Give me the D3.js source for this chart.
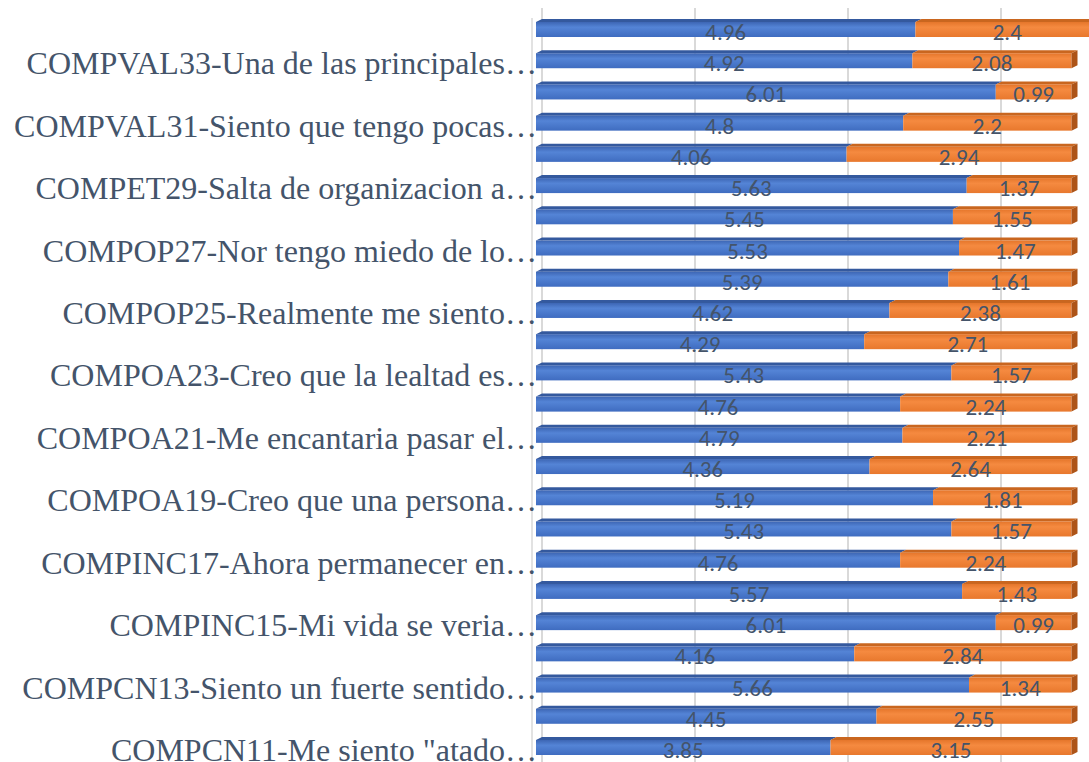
<!DOCTYPE html>
<html>
<head>
<meta charset="utf-8">
<script src="https://cdn.jsdelivr.net/npm/d3@7"></script>
<style>
  body { margin: 0; background: #fff; }
  svg { display: block; }
</style>
</head>
<body>
<svg id="chart" width="1089" height="762"></svg>
<script>
// categories from bottom to top, only every other one gets a label on the axis
var categories = [
  'COMPCN11-Me siento "atado…', "COMPCN12",
  "COMPCN13-Siento un fuerte sentido…", "COMPCN14",
  "COMPINC15-Mi vida se veria…", "COMPINC16",
  "COMPINC17-Ahora permanecer en…", "COMPINC18",
  "COMPOA19-Creo que una persona…", "COMPOA20",
  "COMPOA21-Me encantaria pasar el…", "COMPOA22",
  "COMPOA23-Creo que la lealtad es…", "COMPOA24",
  "COMPOP25-Realmente me siento…", "COMPOP26",
  "COMPOP27-Nor tengo miedo de lo…", "COMPOP28",
  "COMPET29-Salta de organizacion a…", "COMPET30",
  "COMPVAL31-Siento que tengo pocas…", "COMPVAL32",
  "COMPVAL33-Una de las principales…", "COMPVAL34"
];
var blueValues = [3.85, 4.45, 5.66, 4.16, 6.01, 5.57, 4.76, 5.43, 5.19, 4.36, 4.79, 4.76,
                  5.43, 4.29, 4.62, 5.39, 5.53, 5.45, 5.63, 4.06, 4.8, 6.01, 4.92, 4.96];
var orangeValues = [3.15, 2.55, 1.34, 2.84, 0.99, 1.43, 2.24, 1.57, 1.81, 2.64, 2.21, 2.24,
                    1.57, 2.71, 2.38, 1.61, 1.47, 1.55, 1.37, 2.94, 2.2, 0.99, 2.08, 2.4];
var gridTicks = [0, 2, 4, 6, 8];

var svg = d3.select("#chart");
var textColor = "#44546A";
var depthX = 6, depthY = 3, barH = 15;

var x = d3.scaleLinear().domain([0, 8]).range([542, 542 + 8 * 76.5]);
var y = d3.scalePoint().domain(d3.range(categories.length).reverse()).range([29.5, 747.5]);

// gradients for the bar faces
var defs = svg.append("defs");
function grad(id, stops) {
  var g = defs.append("linearGradient").attr("id", id)
    .attr("x1", 0).attr("y1", 0).attr("x2", 0).attr("y2", 1);
  stops.forEach(function(s) {
    g.append("stop").attr("offset", s[0]).attr("stop-color", s[1]);
  });
}
grad("blueGrad", [["0", "#3d66b4"], ["0.35", "#5484d6"], ["1", "#3f6cc0"]]);
grad("orangeGrad", [["0", "#e5762b"], ["0.35", "#f58a40"], ["1", "#e8782d"]]);

// back wall edge and gridlines
svg.append("line")
  .attr("x1", 532).attr("x2", 532).attr("y1", 18).attr("y2", 762)
  .attr("stroke", "#d9d9d9").attr("stroke-width", 1.5);
svg.append("g").selectAll("line")
  .data(gridTicks)
  .enter()
  .append("line")
  .attr("x1", function(d) { return x(d); })
  .attr("x2", function(d) { return x(d); })
  .attr("y1", 8).attr("y2", 762)
  .attr("stroke", "#d9d9d9").attr("stroke-width", 2);

var rows = d3.range(categories.length).map(function(i) {
  return { i: i, blue: blueValues[i], orange: orangeValues[i] };
});

var bars = svg.append("g").selectAll("g")
  .data(rows)
  .enter()
  .append("g");

function segs(d) {
  return [
    { x0: 0, x1: d.blue, fill: "url(#blueGrad)", top: "#34599e", v: d.blue, row: d.i },
    { x0: d.blue, x1: d.blue + d.orange, fill: "url(#orangeGrad)", top: "#c9661f", v: d.orange, row: d.i }
  ];
}

// top faces
bars.selectAll("path.top")
  .data(segs)
  .enter()
  .append("path")
  .attr("class", "top")
  .attr("d", function(s) {
    var fy = y(s.row) - barH / 2;
    var a = x(s.x0) - depthX, b = x(s.x1) - depthX;
    return "M" + a + "," + fy + "L" + (a + depthX) + "," + (fy - depthY) +
      "L" + (b + depthX) + "," + (fy - depthY) + "L" + b + "," + fy + "Z";
  })
  .attr("fill", function(s) { return s.top; });

// front faces
bars.selectAll("rect")
  .data(segs)
  .enter()
  .append("rect")
  .attr("x", function(s) { return x(s.x0) - depthX; })
  .attr("y", function(s) { return y(s.row) - barH / 2; })
  .attr("width", function(s) { return x(s.x1) - x(s.x0); })
  .attr("height", barH)
  .attr("fill", function(s) { return s.fill; });

// right side face of the orange end
bars.append("path")
  .attr("d", function(d) {
    var fy = y(d.i) - barH / 2;
    var b = x(d.blue + d.orange) - depthX;
    return "M" + b + "," + fy + "L" + (b + depthX) + "," + (fy - depthY) +
      "L" + (b + depthX) + "," + (fy + barH - depthY) + "L" + b + "," + (fy + barH) + "Z";
  })
  .attr("fill", "#ad5418");

// value labels
bars.selectAll("text")
  .data(segs)
  .enter()
  .append("text")
  .attr("x", function(s) { return (x(s.x0) + x(s.x1)) / 2 - depthX; })
  .attr("y", function(s) { return y(s.row) + 10.5; })
  .attr("text-anchor", "middle")
  .attr("font-family", "Carlito, Lato, sans-serif")
  .attr("font-size", "23px")
  .attr("fill", textColor)
  .text(function(s) { return s.v; });

// category labels, every other one
svg.append("g").selectAll("text")
  .data(rows.filter(function(d) { return d.i % 2 == 0; }))
  .enter()
  .append("text")
  .attr("x", 537)
  .attr("y", function(d) { return y(d.i) + 13.5; })
  .attr("text-anchor", "end")
  .attr("font-family", "'Liberation Serif', 'Times New Roman', serif")
  .attr("font-size", "32px")
  .attr("fill", textColor)
  .text(function(d) { return categories[d.i]; });
</script>
</body>
</html>
